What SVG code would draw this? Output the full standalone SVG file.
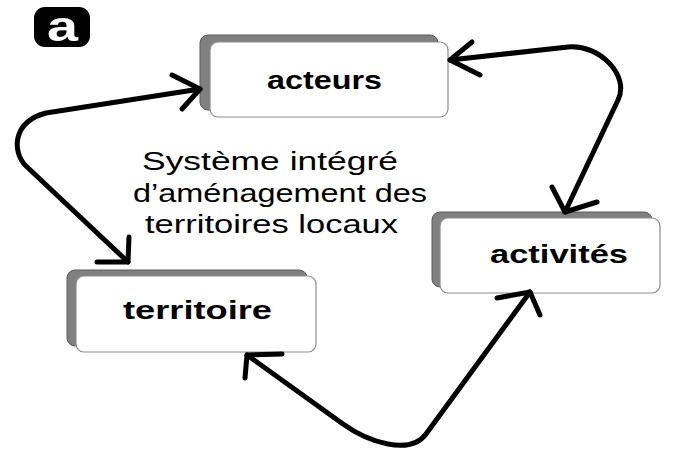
<svg xmlns="http://www.w3.org/2000/svg" width="675" height="450" viewBox="0 0 675 450">
<style>
.shadow{fill:#808080;stroke:#5a5a5a;stroke-width:1}
.box{fill:#fff;stroke:#8c8c8c;stroke-width:1.2}
.lbl{font-family:"Liberation Sans",Arial,sans-serif;font-weight:bold;font-size:25px;fill:#000}
.mid{font-family:"Liberation Sans",Arial,sans-serif;font-size:26px;fill:#000}
.conn path{fill:none;stroke:#000;stroke-width:5;stroke-linecap:round;stroke-linejoin:round}
</style>
<rect width="675" height="450" fill="#fff"/>
<g id="badge">
<rect x="34" y="7" width="56" height="40" rx="11" fill="#000"/>
<text x="47" y="41" font-family="Liberation Sans,Arial,sans-serif" font-weight="bold" font-size="42" fill="#fff" textLength="31" lengthAdjust="spacingAndGlyphs">a</text>
</g>
<g id="acteurs">
<rect class="shadow" x="200" y="35" width="238" height="75" rx="8"/>
<rect class="box" x="210" y="42" width="238" height="75" rx="8"/>
<text class="lbl" x="267" y="89" textLength="115" lengthAdjust="spacingAndGlyphs">acteurs</text>
</g>
<g id="activites">
<rect class="shadow" x="432" y="212" width="220" height="75" rx="8"/>
<rect class="box" x="440" y="218" width="220" height="75" rx="8"/>
<text class="lbl" x="490" y="263" textLength="138" lengthAdjust="spacingAndGlyphs">activités</text>
</g>
<g id="territoire">
<rect class="shadow" x="67" y="270" width="240" height="76" rx="8"/>
<rect class="box" x="76" y="276" width="240" height="76" rx="8"/>
<text class="lbl" x="123" y="319" textLength="149" lengthAdjust="spacingAndGlyphs">territoire</text>
</g>
<g id="center-label">
<text class="mid" x="142" y="170" textLength="256" lengthAdjust="spacingAndGlyphs">Système intégré</text>
<text class="mid" x="133" y="202" textLength="294" lengthAdjust="spacingAndGlyphs">d’aménagement des</text>
<text class="mid" x="145" y="233" textLength="253" lengthAdjust="spacingAndGlyphs">territoires locaux</text>
</g>
<g id="connectors" class="conn">
<path d="M128,262 L26,166 C12,152 12,122 46,113 L200,89"/>
<path d="M172,75 L200,89 L182,109"/>
<path d="M97,262 L128,262 L129,237"/>
<path d="M450,60 L568,47 C600,44 630,76 618,100 L565,212"/>
<path d="M472,42 L450,60 L480,75"/>
<path d="M552,187 L565,212 L597,202"/>
<path d="M247,355 L343,424 C368,442 410,456 426,434 L530,292"/>
<path d="M282,354 L247,355 L245,378"/>
<path d="M497,298 L530,292 L540,315"/>
</g>
</svg>
